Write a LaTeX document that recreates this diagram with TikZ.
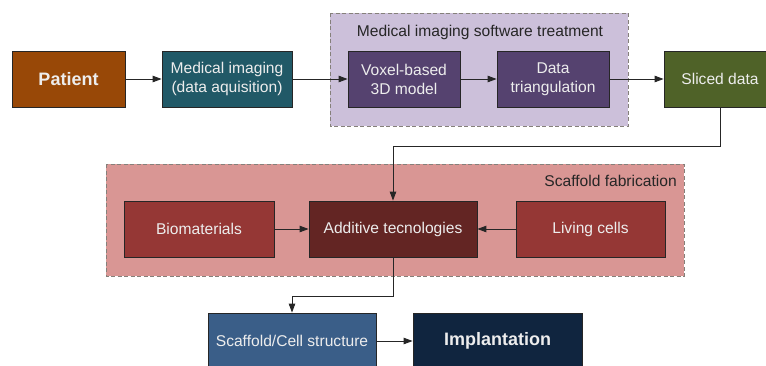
\documentclass[tikz,border=0pt]{standalone}
\usepackage{fontspec}
\setmainfont{Liberation Sans}
\usetikzlibrary{arrows.meta,calc}
\definecolor{cPatient}{HTML}{984807}
\definecolor{cMedImg}{HTML}{215967}
\definecolor{cPurpleBox}{HTML}{55426F}
\definecolor{cPurpleGrp}{HTML}{CCC0DA}
\definecolor{cSliced}{HTML}{4F6228}
\definecolor{cRedGrp}{HTML}{D99694}
\definecolor{cRedBox}{HTML}{953735}
\definecolor{cAdd}{HTML}{632523}
\definecolor{cScaf}{HTML}{3A5E88}
\definecolor{cImpl}{HTML}{10253F}
\definecolor{cTxt}{HTML}{EDEDED}
\definecolor{cGrpBorder}{HTML}{85807A}
\tikzset{
  box/.style={draw=black!85, line width=0.8pt, minimum height=56pt, inner sep=2pt,
    text=cTxt, align=center, font=\fontsize{15.6pt}{19pt}\selectfont},
  boldbox/.style={box, font=\fontsize{18pt}{21pt}\selectfont\bfseries},
  grp/.style={draw=cGrpBorder, line width=1pt, dash pattern=on 4pt off 2.5pt},
  grptitle/.style={text=black!85, inner sep=0pt, font=\fontsize{15.6pt}{19pt}\selectfont},
  conn/.style={draw=black!85, line width=0.9pt, -{Triangle[length=9pt,width=6.5pt]}},
}
\begin{document}
\begin{tikzpicture}[x=1pt,y=-1pt]
\clip (0,0) rectangle (766,365);
\fill[white] (0,0) rectangle (766,365);
% groups
\draw[grp, fill=cPurpleGrp] (330,13) rectangle (628,126);
\draw[grp, fill=cRedGrp] (106,164) rectangle (684,276);
\node[grptitle, anchor=base] (t1) at (480,36) {Medical imaging software treatment};
\node[grptitle, anchor=base east] (t2) at (677,186) {Scaffold fabrication};
% row 1
\node[boldbox, fill=cPatient, minimum width=113pt] (patient) at (68.5,79) {Patient};
\node[box, fill=cMedImg, minimum width=130pt] (medimg) at (227,79) {Medical imaging\\(data aquisition)};
\node[box, fill=cPurpleBox, minimum width=112pt] (voxel) at (404,79) {Voxel-based\\3D model};
\node[box, fill=cPurpleBox, minimum width=112pt] (tri) at (553,79) {Data\\triangulation};
\node[box, fill=cSliced, minimum width=112pt] (sliced) at (720,79) {Sliced data};
% row 2
\node[box, fill=cRedBox, minimum width=150pt] (bio) at (199,229) {Biomaterials};
\node[box, fill=cAdd, minimum width=168pt] (add) at (393,229) {Additive tecnologies};
\node[box, fill=cRedBox, minimum width=149pt] (cells) at (590.5,229) {Living cells};
% row 3
\node[box, fill=cScaf, minimum width=168pt] (scaf) at (292,341) {Scaffold/Cell structure};
\node[boldbox, fill=cImpl, minimum width=169pt] (impl) at (497.5,341) {Implantation};
% connectors
\draw[conn] (patient) -- (medimg);
\draw[conn] (medimg) -- (voxel);
\draw[conn] (voxel) -- (tri);
\draw[conn] (tri) -- (sliced);
\draw[conn] (sliced.south) -- ++(0,39) -| (add.north);
\draw[conn] (bio) -- (add);
\draw[conn] (cells) -- (add);
\draw[conn] (add.south) -- ++(0,39) -| (scaf.north);
\draw[conn] (scaf) -- (impl);
\end{tikzpicture}
\end{document}
